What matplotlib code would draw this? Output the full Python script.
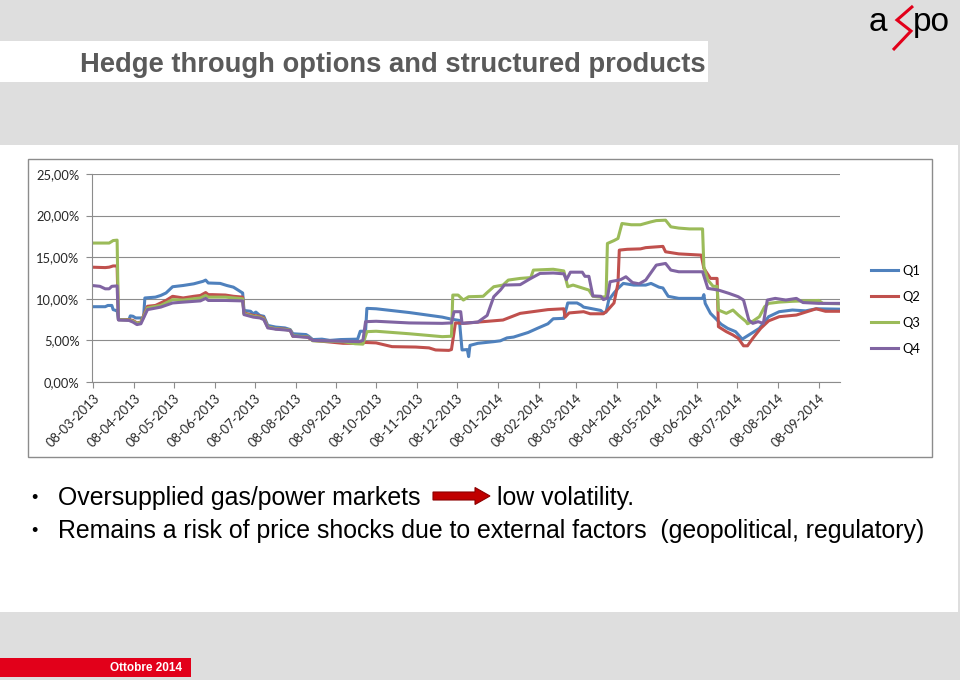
import matplotlib
matplotlib.use('Agg')
import matplotlib.pyplot as plt
import pandas as pd
from matplotlib.patches import Rectangle, Polygon

# ---- dati (giorni dal 08-03-2013, volatilita' in %) ----
start_date = '2013-03-08'
axis_start = '2013-03-07'
axis_end = '2014-09-24'

q1_days = [-1, 9, 11, 14, 15, 17, 18, 19, 27, 28, 30, 32, 38, 39, 47, 51, 55, 60, 68, 76,
           83, 85, 87, 96, 101, 106, 111, 113, 114, 119, 121, 123, 126, 129, 132, 138, 145,
           149, 151, 161, 163, 166, 173, 179, 187, 200, 202, 206, 207, 214, 239, 264, 271,
           277, 279, 283, 284, 285, 291, 303, 308, 313, 318, 329, 336, 344, 348, 356, 359,
           366, 369, 371, 376, 384, 386, 388, 390, 394, 397, 401, 409, 418, 422, 428, 431,
           435, 443, 461, 462, 463, 467, 472, 475, 480, 486, 491, 496, 504, 511, 519, 529,
           539, 547, 566]
q1_vals = [9.05, 9.05, 9.2, 9.2, 8.7, 8.6, 8.6, 7.5, 7.5, 7.95, 7.9, 7.7, 7.7, 10.1, 10.2,
           10.4, 10.7, 11.45, 11.6, 11.8, 12.1, 12.25, 11.9, 11.85, 11.6, 11.4, 10.9, 10.7,
           8.6, 8.5, 8.2, 8.4, 8.0, 7.9, 6.8, 6.6, 6.5, 6.3, 5.8, 5.7, 5.5, 5.1, 5.15, 5.0,
           5.1, 5.15, 6.1, 6.1, 8.85, 8.8, 8.35, 7.8, 7.55, 7.4, 3.85, 3.9, 3.05, 4.4, 4.65,
           4.85, 4.95, 5.3, 5.4, 5.95, 6.45, 7.0, 7.6, 7.65, 9.5, 9.5, 9.25, 9.0, 8.85, 8.6,
           8.3, 8.4, 9.85, 10.7, 11.25, 11.85, 11.65, 11.65, 11.85, 11.4, 11.3, 10.3, 10.05,
           10.05, 10.5, 9.45, 8.25, 7.45, 6.95, 6.45, 6.05, 5.15, 5.65, 6.45, 7.85, 8.45,
           8.65, 8.55, 8.8, 8.75]

q2_days = [-1, 9, 12, 15, 18, 19, 27, 30, 33, 36, 41, 47, 51, 55, 60, 68, 76, 81, 85, 87,
           90, 100, 106, 113, 114, 121, 126, 129, 132, 138, 145, 149, 151, 161, 163, 166,
           176, 189, 201, 206, 214, 226, 244, 254, 259, 269, 271, 274, 280, 291, 310, 323,
           344, 356, 357, 360, 371, 376, 386, 389, 394, 397, 398, 404, 414, 418, 431, 433,
           443, 460, 462, 467, 472, 473, 479, 484, 488, 492, 495, 499, 505, 511, 519, 532,
           541, 547, 554, 566]
q2_vals = [13.8, 13.75, 13.8, 13.95, 13.95, 7.5, 7.5, 7.4, 7.1, 7.2, 9.1, 9.2, 9.5, 9.8,
           10.3, 10.1, 10.3, 10.4, 10.75, 10.5, 10.5, 10.45, 10.3, 10.2, 8.3, 8.0, 7.9, 7.7,
           6.6, 6.4, 6.35, 6.2, 5.5, 5.45, 5.3, 5.0, 4.85, 4.65, 4.65, 4.75, 4.7, 4.25, 4.2,
           4.1, 3.85, 3.8, 3.9, 7.1, 7.05, 7.2, 7.45, 8.25, 8.7, 8.8, 7.8, 8.3, 8.45, 8.2,
           8.2, 8.6, 9.5, 11.85, 15.85, 15.95, 16.0, 16.15, 16.3, 15.65, 15.4, 15.25, 13.65,
           12.45, 12.45, 6.65, 6.05, 5.65, 5.25, 4.35, 4.35, 5.25, 6.45, 7.35, 7.85, 8.05,
           8.5, 8.8, 8.5, 8.5]

q3_days = [-1, 12, 15, 18, 19, 27, 30, 33, 36, 41, 51, 60, 68, 81, 85, 87, 100, 113, 114,
           121, 126, 129, 132, 138, 149, 151, 163, 166, 176, 189, 198, 204, 207, 214, 239,
           264, 271, 272, 276, 280, 284, 295, 298, 303, 310, 314, 323, 331, 333, 348, 356,
           359, 363, 371, 375, 378, 384, 388, 389, 394, 397, 400, 407, 414, 422, 426, 433,
           437, 443, 451, 461, 462, 465, 469, 472, 473, 479, 484, 488, 494, 495, 499, 504,
           508, 511, 519, 529, 539, 549, 552, 566]
q3_vals = [16.7, 16.7, 17.0, 17.05, 7.5, 7.45, 7.3, 7.05, 7.15, 8.9, 9.2, 9.9, 9.85, 10.1,
           10.4, 10.2, 10.2, 10.0, 8.2, 7.9, 7.8, 7.6, 6.6, 6.4, 6.25, 5.55, 5.4, 4.95, 4.9,
           4.85, 4.6, 4.55, 6.05, 6.1, 5.8, 5.45, 5.5, 10.45, 10.45, 9.85, 10.25, 10.3, 10.75,
           11.45, 11.65, 12.25, 12.45, 12.55, 13.45, 13.55, 13.35, 11.45, 11.65, 11.25,
           11.05, 10.3, 10.2, 10.25, 16.65, 17.0, 17.25, 19.05, 18.9, 18.9, 19.25, 19.4,
           19.45, 18.65, 18.5, 18.4, 18.4, 13.85, 12.25, 11.5, 11.5, 8.65, 8.25, 8.65, 8.05,
           7.25, 7.0, 7.3, 7.85, 9.05, 9.45, 9.6, 9.7, 9.75, 9.8, 9.45, 9.4]

q4_days = [-1, 5, 9, 12, 14, 18, 19, 27, 30, 33, 36, 41, 51, 60, 68, 81, 85, 87, 100, 113,
           114, 121, 126, 129, 132, 138, 149, 151, 163, 166, 176, 189, 201, 204, 206, 214,
           239, 264, 271, 273, 278, 279, 291, 298, 303, 308, 311, 323, 331, 338, 348, 356,
           358, 361, 370, 372, 375, 378, 384, 386, 389, 391, 399, 403, 408, 413, 418, 426,
           433, 437, 443, 461, 465, 473, 481, 488, 492, 496, 499, 503, 507, 510, 516, 524,
           532, 537, 549, 566]
q4_vals = [11.6, 11.5, 11.2, 11.2, 11.5, 11.55, 7.45, 7.4, 7.2, 6.9, 7.0, 8.7, 9.0, 9.5,
           9.6, 9.75, 10.05, 9.8, 9.8, 9.75, 8.1, 7.8, 7.7, 7.5, 6.5, 6.35, 6.2, 5.5, 5.35,
           5.0, 4.95, 4.9, 4.85, 5.0, 7.25, 7.3, 7.1, 7.05, 7.1, 8.45, 8.45, 7.05, 7.2, 8.0,
           10.25, 11.05, 11.65, 11.7, 12.45, 13.05, 13.1, 13.0, 12.3, 13.2, 13.2, 12.7, 12.7,
           10.35, 10.3, 9.9, 10.1, 12.05, 12.3, 12.65, 11.95, 11.8, 12.25, 14.05, 14.25,
           13.45, 13.25, 13.25, 11.25, 11.05, 10.65, 10.25, 9.85, 7.45, 7.05, 7.25, 7.05,
           9.85, 10.05, 9.85, 10.05, 9.55, 9.45, 9.45]

series_names = ['Q1', 'Q2', 'Q3', 'Q4']
series_colors = ['#4F81BD', '#C0504D', '#9BBB59', '#8064A2']

tick_labels = ['08-03-2013', '08-04-2013', '08-05-2013', '08-06-2013', '08-07-2013',
               '08-08-2013', '08-09-2013', '08-10-2013', '08-11-2013', '08-12-2013',
               '08-01-2014', '08-02-2014', '08-03-2014', '08-04-2014', '08-05-2014',
               '08-06-2014', '08-07-2014', '08-08-2014', '08-09-2014']
y_ticks = [0, 5, 10, 15, 20, 25]

title = 'Hedge through options and structured products'
bullet_1a = 'Oversupplied gas/power markets'
bullet_1b = 'low volatility.'
bullet_2 = 'Remains a risk of price shocks due to external factors  (geopolitical, regulatory)'
footer = 'Ottobre 2014'

# ---- figura ----
W, H = 960, 680
fig = plt.figure(figsize=(W / 100, H / 100), dpi=100)
fig.patch.set_facecolor('#dedede')

# livello decorativo in coordinate pixel della slide
deco = fig.add_axes([0, 0, 1, 1], zorder=0)
deco.set_xlim(0, W)
deco.set_ylim(H, 0)
deco.axis('off')

deco.add_patch(Rectangle((0, 145), 958, 467, facecolor='white', edgecolor='none'))
deco.add_patch(Rectangle((0, 41), 708, 41, facecolor='white', edgecolor='none'))
deco.add_patch(Rectangle((28, 159), 904, 298, facecolor='white', edgecolor='#8c8c8c', lw=1.0))
deco.add_patch(Rectangle((0, 658), 191, 19, facecolor='#e2001a', edgecolor='none'))

deco.text(80, 72, title, fontsize=19.7, fontweight='bold', color='#5a5a5a',
          family='Liberation Sans', va='baseline', ha='left')

deco.text(31, 503, '\u2022', fontsize=13, color='black', family='Liberation Sans', va='baseline')
deco.text(58, 505, bullet_1a, fontsize=17.9, color='black', family='Liberation Sans', va='baseline')
deco.text(497, 505, bullet_1b, fontsize=17.9, color='black', family='Liberation Sans', va='baseline')
deco.text(31, 536, '\u2022', fontsize=13, color='black', family='Liberation Sans', va='baseline')
deco.text(58, 538, bullet_2, fontsize=17.9, color='black', family='Liberation Sans', va='baseline')

# freccia rossa
arrow = [(433, 492), (475, 492), (475, 487.5), (490, 496), (475, 504.5), (475, 500), (433, 500)]
deco.add_patch(Polygon(arrow, closed=True, facecolor='#c00000', edgecolor='#8b0000', lw=0.8))

deco.text(182, 668, footer, fontsize=8.5, fontweight='bold', color='white',
          family='Liberation Sans', ha='right', va='center')

# logo
deco.text(869, 31, 'a', fontsize=24, color='black', family='Liberation Sans', va='baseline')
deco.text(913, 31, 'po', fontsize=24, color='black', family='Liberation Sans', va='baseline')
deco.plot([913, 897, 911, 893], [6, 20, 31, 50], color='#e2001a', lw=2.2,
          solid_joinstyle='miter', solid_capstyle='butt')

# ---- grafico ----
ax = fig.add_axes([92 / W, 1 - 382 / H, (840 - 92) / W, (382 - 174) / H], zorder=2)
ax.set_facecolor('white')

start = pd.Timestamp(start_date)
all_days = [q1_days, q2_days, q3_days, q4_days]
all_vals = [q1_vals, q2_vals, q3_vals, q4_vals]
for days, vals, name, color in zip(all_days, all_vals, series_names, series_colors):
    dates = start + pd.to_timedelta(days, unit='D')
    ax.plot(dates, vals, color=color, lw=2.2, label=name, solid_joinstyle='round')

ax.set_xlim(pd.Timestamp(axis_start), pd.Timestamp(axis_end))
ax.set_ylim(0, 25)
ax.set_yticks(y_ticks)
ax.set_yticklabels([f'{v:.2f}'.replace('.', ',') + '%' for v in y_ticks])
tick_dates = pd.to_datetime(tick_labels, format='%d-%m-%Y')
ax.set_xticks(tick_dates)
ax.set_xticklabels(tick_labels, rotation=45, ha='right', rotation_mode='anchor')

for lab in ax.get_xticklabels() + ax.get_yticklabels():
    lab.set_family('Lato')
    lab.set_fontsize(9.3)
    lab.set_color('#262626')

ax.yaxis.grid(True, color='#8c8c8c', lw=0.8)
ax.set_axisbelow(True)
for side in ['top', 'right']:
    ax.spines[side].set_visible(False)
for side in ['left', 'bottom']:
    ax.spines[side].set_color('#8c8c8c')
    ax.spines[side].set_linewidth(0.8)
ax.tick_params(axis='both', color='#8c8c8c', length=4, width=0.8)
ax.tick_params(axis='y', pad=5)
ax.tick_params(axis='x', pad=3)

ax.legend(loc='upper left', bbox_to_anchor=(871 / W, 1 - 265 / H), bbox_transform=fig.transFigure,
          frameon=False, borderpad=0, borderaxespad=0, handlelength=2.1, handletextpad=0.35,
          labelspacing=1.08, prop={'family': 'Lato', 'size': 9.3})

fig.savefig('out.png', dpi=100, facecolor=fig.get_facecolor())
